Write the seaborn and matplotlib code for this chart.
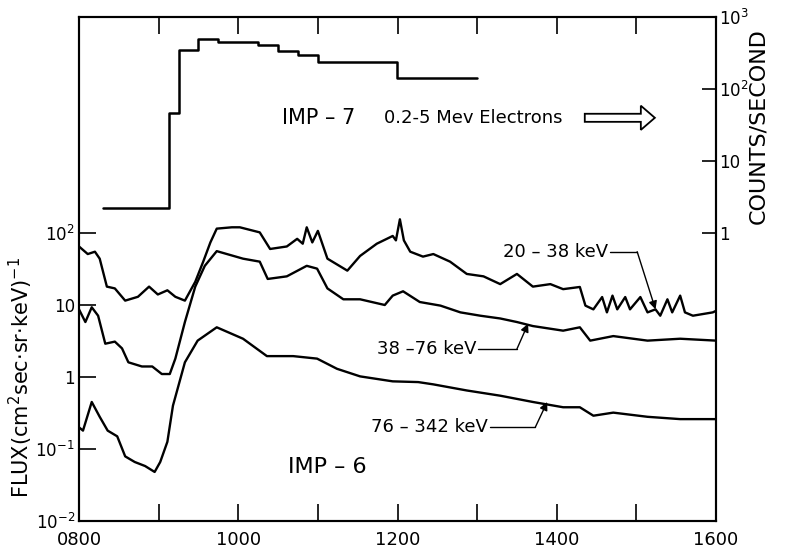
"""
IMP-6 electron flux and IMP-7 0.2-5 MeV electron counts, 0800-1600 UT.
"""

import matplotlib
matplotlib.use("Agg")
import matplotlib.pyplot as plt
import seaborn as sns
from matplotlib.patches import FancyArrow

# IMP-6 fluxes (cm^2 sec sr keV)^-1, time in decimal hours UT
t_20_38 = [8.00, 8.11, 8.20, 8.26, 8.35, 8.45, 8.58, 8.74, 8.88, 8.99, 9.11, 9.21,
           9.33, 9.46, 9.56, 9.65, 9.73, 9.92, 10.02, 10.27, 10.40, 10.61, 10.74,
           10.81, 10.86, 10.93, 11.00, 11.12, 11.37, 11.53, 11.74, 11.94, 11.98,
           12.03, 12.08, 12.16, 12.32, 12.45, 12.66, 12.87, 13.08, 13.29, 13.50,
           13.70, 13.92, 14.08, 14.29, 14.36, 14.46, 14.57, 14.63, 14.70, 14.76,
           14.86, 14.92, 15.05, 15.14, 15.24, 15.30, 15.39, 15.45, 15.55, 15.61,
           15.71, 15.96, 16.00]
flux_20_38 = [65, 51, 55, 44, 18, 17, 11.5, 13, 18, 14, 16, 13,
              11.5, 21, 40, 74, 115, 120, 120, 102, 60, 65, 83,
              71, 120, 74, 107, 44, 30, 48, 71, 91, 79,
              155, 79, 55, 47, 51, 40, 27, 25, 19.5, 27,
              18, 19.5, 16.6, 17.8, 9.8, 8.7, 12.9, 7.9, 13.5, 8.7,
              12.9, 8.7, 12.9, 7.9, 8.7, 7.1, 12, 7.9, 13.5, 7.9,
              7.1, 7.9, 8.3]

t_38_76 = [8.00, 8.08, 8.16, 8.24, 8.33, 8.45, 8.54, 8.62, 8.79, 8.92, 9.04, 9.14,
           9.21, 9.33, 9.46, 9.58, 9.73, 10.06, 10.27, 10.37, 10.61, 10.86, 10.99,
           11.12, 11.32, 11.53, 11.84, 11.94, 12.07, 12.28, 12.54, 12.79, 13.04,
           13.29, 13.50, 13.70, 14.08, 14.29, 14.42, 14.71, 15.14, 15.55, 16.00]
flux_38_76 = [8.7, 5.8, 9.3, 7.1, 2.9, 3.1, 2.5, 1.6, 1.4, 1.4, 1.1, 1.1,
              1.8, 5.8, 18, 35, 56, 44, 40, 23, 25, 35, 32,
              17, 12, 12, 10, 13.5, 15.5, 11, 9.8, 7.9, 7.1,
              6.5, 5.8, 5.1, 4.4, 4.9, 3.2, 3.7, 3.2, 3.4, 3.2]

t_76_342 = [8.00, 8.05, 8.16, 8.26, 8.36, 8.48, 8.58, 8.70, 8.83, 8.95, 9.02, 9.11,
            9.18, 9.33, 9.49, 9.73, 10.06, 10.36, 10.69, 10.99, 11.24, 11.53, 11.94,
            12.26, 12.45, 12.87, 13.29, 13.70, 14.08, 14.29, 14.46, 14.71, 15.14,
            15.55, 16.00]
flux_76_342 = [0.20, 0.18, 0.45, 0.28, 0.18, 0.15, 0.079, 0.066, 0.058, 0.048, 0.066, 0.126,
               0.40, 1.6, 3.2, 4.9, 3.4, 1.95, 1.95, 1.8, 1.3, 1.02, 0.87,
               0.85, 0.79, 0.65, 0.55, 0.45, 0.38, 0.38, 0.29, 0.32, 0.28,
               0.26, 0.26]

# IMP-7 0.2-5 MeV electrons, counts/second (step edges in hours)
imp7_edges = [8.30, 9.13, 9.25, 9.50, 9.75, 10.25, 10.50, 10.75, 11.00, 12.00, 13.00]
imp7_counts = [2.2, 46, 350, 490, 450, 410, 333, 294, 240, 142]

hour_ticks = [8, 9, 10, 11, 12, 13, 14, 15, 16]
hour_labels = ["0800", "", "1000", "", "1200", "", "1400", "", "1600"]
flux_ticks = [1e-2, 1e-1, 1, 10, 100]
flux_labels = ["$10^{-2}$", "$10^{-1}$", "1", "10", "$10^{2}$"]
count_ticks = [1, 10, 100, 1000]
count_labels = ["1", "10", "$10^{2}$", "$10^{3}$"]


def main():
    sns.set_theme(style="ticks")
    plt.rcParams['font.family'] = ['DejaVu Sans']
    plt.rcParams['mathtext.fontset'] = 'dejavusans'
    plt.rcParams['text.color'] = 'black'
    plt.rcParams['axes.labelcolor'] = 'black'

    fig = plt.figure(figsize=(7.85, 5.53), dpi=100)
    ax = fig.add_axes([79 / 785, 32 / 553, 637 / 785, 504 / 553])

    for t, f in [(t_20_38, flux_20_38), (t_38_76, flux_38_76), (t_76_342, flux_76_342)]:
        sns.lineplot(x=t, y=f, ax=ax, color='black', lw=1.7, estimator=None)

    ax.set_yscale('log')
    ax.set_xlim(8, 16)
    ax.set_ylim(1e-2, 1e5)
    ax.minorticks_off()
    ax.set_xticks(hour_ticks)
    ax.set_xticklabels(hour_labels)
    ax.set_yticks(flux_ticks)
    ax.set_yticklabels(flux_labels)
    ax.tick_params(axis='x', direction='in', length=12, width=1.2, top=True,
                   labelsize=13, pad=7, colors='black')
    ax.tick_params(axis='y', direction='in', length=12, width=1.2,
                   labelsize=12, pad=3, colors='black')

    ax2 = ax.twinx()
    counts_ext = imp7_counts + [imp7_counts[-1]]
    sns.lineplot(x=imp7_edges, y=counts_ext, ax=ax2, color='black', lw=1.8,
                 drawstyle='steps-post', estimator=None)
    ax2.set_yscale('log')
    ax2.set_ylim(1e-4, 1e3)
    ax2.minorticks_off()
    ax2.set_yticks(count_ticks)
    ax2.set_yticklabels(count_labels)
    ax2.tick_params(axis='y', direction='in', length=10, width=1.2,
                    labelsize=12, pad=2, colors='black')

    for a in (ax, ax2):
        for s in a.spines.values():
            s.set_linewidth(1.5)
            s.set_color('black')

    # channel labels with leader arrows
    labels = [
        ("20 – 38 keV", 14.67, 55, 15.01, 15.24, 8.7),
        ("38 –76 keV", 13.01, 2.45, 13.50, 13.64, 5.5),
        ("76 – 342 keV", 13.16, 0.20, 13.73, 13.88, 0.45),
    ]
    for text, x0, y0, xc, xt, yt in labels:
        ax.text(x0 - 0.02, y0, text, ha='right', va='center', fontsize=13)
        ax.plot([x0, xc], [y0, y0], color='black', lw=1)
        ax.annotate('', xy=(xt, yt), xytext=(xc, y0),
                    arrowprops=dict(arrowstyle='-|>', color='black', lw=1,
                                    mutation_scale=12, shrinkA=0, shrinkB=0))

    ax.text(11.12, 0.056, "IMP – 6", ha='center', va='center', fontsize=16)
    ax.text(0.319, 0.80, "IMP – 7", transform=ax.transAxes, ha='left',
            va='center', fontsize=15)
    ax.text(0.479, 0.80, "0.2-5 Mev Electrons", transform=ax.transAxes,
            ha='left', va='center', fontsize=13)
    ax2.add_patch(FancyArrow(0.794, 0.80, 0.11, 0, width=0.016, head_width=0.048,
                             head_length=0.022, length_includes_head=True,
                             transform=ax.transAxes, fc='white', ec='black', lw=1.3))

    fig.text(21 / 785, 1 - 378 / 553, "FLUX(cm$^2$sec$\\cdot$sr$\\cdot$keV)$^{-1}$",
             rotation=90, ha='center', va='center', fontsize=15)
    fig.text(758 / 785, 1 - 126 / 553, "COUNTS/SECOND", rotation=90,
             ha='center', va='center', fontsize=16)

    fig.savefig('out.png', dpi=100)
    plt.close(fig)


if __name__ == "__main__":
    main()
